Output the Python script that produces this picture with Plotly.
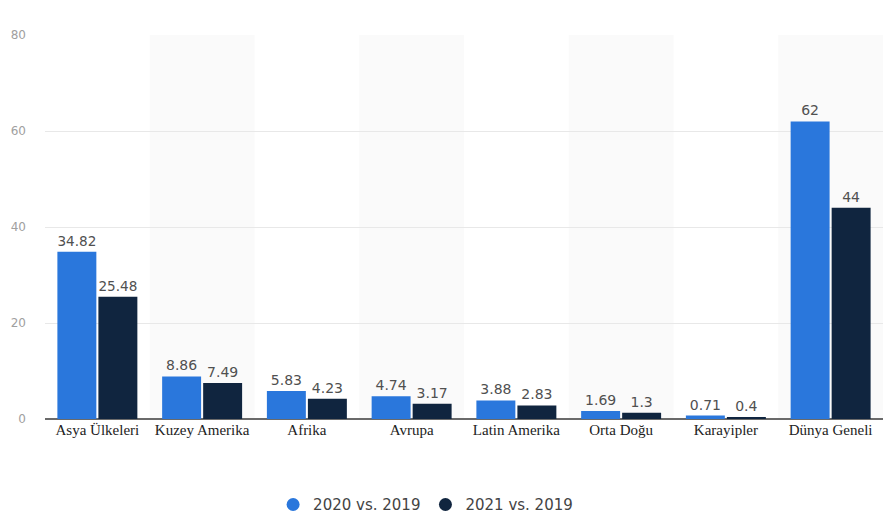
import plotly.graph_objects as go

categories = ["Asya Ülkeleri", "Kuzey Amerika", "Afrika", "Avrupa", "Latin Amerika",
              "Orta Doğu", "Karayipler", "Dünya Geneli"]
series_names = ["2020 vs. 2019", "2021 vs. 2019"]
values_2020 = [34.82, 8.86, 5.83, 4.74, 3.88, 1.69, 0.71, 62]
values_2021 = [25.48, 7.49, 4.23, 3.17, 2.83, 1.3, 0.4, 44]
y_ticks = [0, 20, 40, 60, 80]

colors = ["#2a77dc", "#10253f"]
x_idx = list(range(len(categories)))

fig = go.Figure()
for name, vals, col in zip(series_names, [values_2020, values_2021], colors):
    fig.add_trace(go.Bar(
        x=x_idx, y=vals, name=name, marker_color=col, marker_line_width=0,
        text=[f"{v:g}" for v in vals], textposition="outside", cliponaxis=False,
        textfont=dict(family="DejaVu Sans", size=14, color="#505050"),
        showlegend=False,
    ))
    fig.add_trace(go.Scatter(
        x=[None], y=[None], mode="markers", name=name,
        marker=dict(symbol="circle", size=13, color=col),
    ))

shapes = []
for i in x_idx:
    if i % 2 == 1:
        shapes.append(dict(type="rect", xref="x", yref="paper", x0=i - 0.5, x1=i + 0.5,
                           y0=0, y1=1, fillcolor="#fafafa", line_width=0, layer="below"))

fig.update_layout(
    width=896, height=522,
    margin=dict(l=45, r=13, t=35, b=103),
    paper_bgcolor="white", plot_bgcolor="white",
    barmode="group", bargap=0.217, bargroupgap=0.05,
    shapes=shapes,
    showlegend=True,
    legend=dict(orientation="h", xref="container", yref="container", x=0.475, y=0.033,
                xanchor="center", yanchor="middle",
                font=dict(family="DejaVu Sans", size=15, color="#444")),
    xaxis=dict(tickmode="array", tickvals=x_idx, ticktext=categories,
               range=[-0.5, len(categories) - 0.5], showgrid=False,
               tickfont=dict(family="Liberation Serif", size=15, color="#222"),
               ticks="", fixedrange=True),
    yaxis=dict(range=[0, 80], tickvals=y_ticks, showgrid=True, gridcolor="#e8e8e8",
               zeroline=True, zerolinecolor="#6a6a6a", zerolinewidth=1.5,
               tickfont=dict(family="DejaVu Sans", size=12, color="#a0a0a0"),
               ticklabelstandoff=18),
)

fig.write_html("out.html")
